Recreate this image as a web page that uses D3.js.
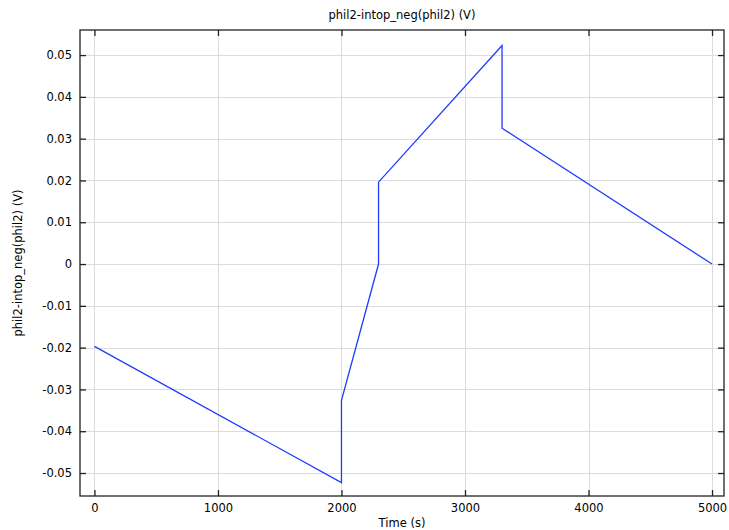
<!DOCTYPE html>
<html><head><meta charset="utf-8">
<script src="https://cdn.jsdelivr.net/npm/d3@7"></script>
<style>
body{margin:0;background:#fff;}
text{font-family:"DejaVu Sans",sans-serif;fill:#000;}
</style></head>
<body><svg id="c" width="729" height="530"></svg>
<script>
const timeValues = [0, 2000, 2000, 2300, 2300, 3300, 3300, 5000];
const phiValues = [-0.0197, -0.0523, -0.0326, 0.0, 0.0196, 0.0523, 0.0325, 0.0];
const xTicks = [0, 1000, 2000, 3000, 4000, 5000];
const yTicks = [-0.05, -0.04, -0.03, -0.02, -0.01, 0, 0.01, 0.02, 0.03, 0.04, 0.05];
const titleText = "phil2-intop_neg(phil2) (V)";
const xLabel = "Time (s)";
const yLabel = "phil2-intop_neg(phil2) (V)";

(function () {
const svg = d3.select("#c");
const L = 80, R = 724, T = 30, B = 496;
const x = d3.scaleLinear().domain([-117, 5097]).range([L, R]);
const y = d3.scaleLinear().domain([-0.0555, 0.056]).range([B, T]);

const g = svg.append("g");
g.selectAll(".gx").data(xTicks).join("line")
  .attr("x1", d => Math.round(x(d)) + 0.5).attr("x2", d => Math.round(x(d)) + 0.5)
  .attr("y1", T).attr("y2", B).attr("stroke", "#dcdcdc").attr("stroke-width", 1);
g.selectAll(".gy").data(yTicks).join("line")
  .attr("y1", d => Math.round(y(d)) + 0.5).attr("y2", d => Math.round(y(d)) + 0.5)
  .attr("x1", L).attr("x2", R).attr("stroke", "#dcdcdc").attr("stroke-width", 1);

const line = d3.line().x((d, i) => x(timeValues[i])).y(d => y(d));
g.append("path").datum(phiValues).attr("d", line)
  .attr("fill", "none").attr("stroke", "#1f3cff").attr("stroke-width", 1.3);

const fmt = d => d === 0 ? "0" : d3.format(".2f")(d).replace("\u2212", "-");
const axB = d3.axisBottom(x).tickValues(xTicks).tickSize(-6).tickPadding(8).tickFormat(d3.format("d"));
const axT = d3.axisTop(x).tickValues(xTicks).tickSize(-6).tickFormat("");
const axL = d3.axisLeft(y).tickValues(yTicks).tickSize(-6).tickPadding(8).tickFormat(fmt);
const axR = d3.axisRight(y).tickValues(yTicks).tickSize(-6).tickFormat("");

function style(sel) {
  sel.select(".domain").remove();
  sel.selectAll(".tick line").attr("stroke", "#222").attr("stroke-width", 1.3);
  sel.selectAll(".tick text").attr("font-size", 11.5).attr("font-family", "DejaVu Sans").attr("fill", "#000");
}
svg.append("g").attr("transform", `translate(0,${B})`).call(axB).call(style);
svg.append("g").attr("transform", `translate(0,${T})`).call(axT).call(style);
svg.append("g").attr("transform", `translate(${L},0)`).call(axL).call(style);
svg.append("g").attr("transform", `translate(${R},0)`).call(axR).call(style);

svg.append("rect").attr("x", L).attr("y", T).attr("width", R - L).attr("height", B - T)
  .attr("fill", "none").attr("stroke", "#222").attr("stroke-width", 1.3);

svg.append("text").attr("x", (L + R) / 2).attr("y", 19).attr("text-anchor", "middle")
  .attr("font-size", 11.5).text(titleText);
svg.append("text").attr("x", (L + R) / 2).attr("y", 527).attr("text-anchor", "middle")
  .attr("font-size", 11.5).text(xLabel);
svg.append("text").attr("transform", `translate(22,${(T + B) / 2}) rotate(-90)`)
  .attr("text-anchor", "middle").attr("font-size", 11.5).text(yLabel);
})();
</script></body></html>
